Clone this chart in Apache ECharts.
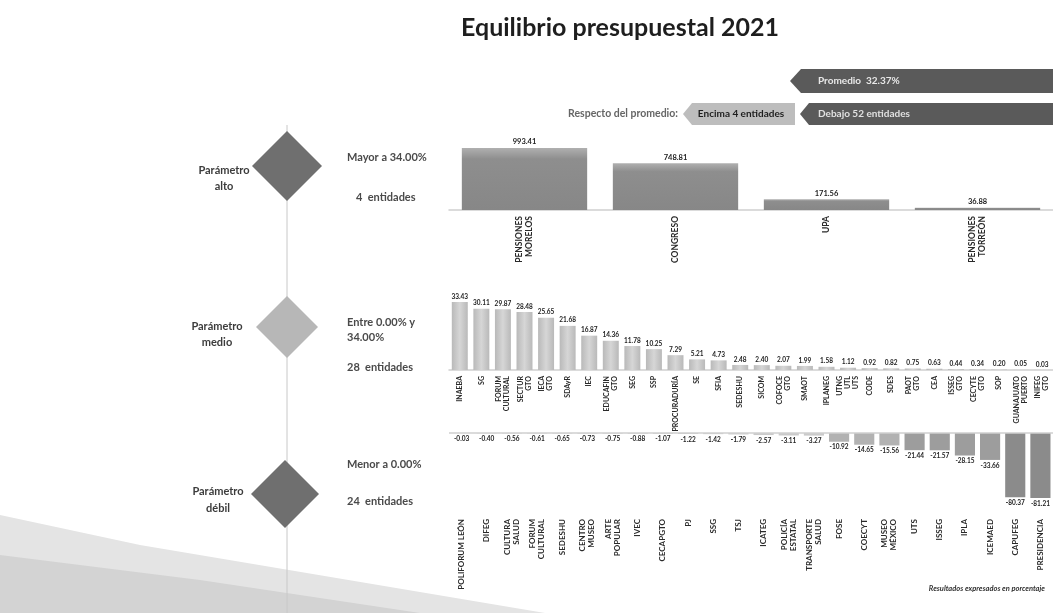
<!DOCTYPE html>
<html><head><meta charset="utf-8">
<script src="https://cdn.jsdelivr.net/npm/echarts/dist/echarts.min.js"></script>
<style>html,body{margin:0;padding:0;background:#fff}#c{width:1053px;height:613px}</style>
</head><body><div id="c"></div>
<script>
// ---- data ----
const altoCats = ["PENSIONES\nMORELOS", "CONGRESO", "UPA", "PENSIONES\nTORREÓN"];
const altoVals = [993.41, 748.81, 171.56, 36.88];

const medioCats = ["INAEBA", "SG", "FORUM\nCULTURAL", "SECTUR\nGTO", "IECA\nGTO", "SDAyR", "IEC", "EDUCAFIN\nGTO",
  "SEG", "SSP", "PROCURADURÍA", "SE", "SFIA", "SEDESHU", "SICOM", "COFOCE\nGTO", "SMAOT", "IPLANEG",
  "UTNG\nUTL\nUTS", "CODE", "SDES", "PAOT\nGTO", "CEA", "ISSEG\nGTO", "CECYTE\nGTO", "SOP", "GUANAJUATO\nPUERTO", "INIFEG\nGTO"];
const medioVals = [33.43, 30.11, 29.87, 28.48, 25.65, 21.68, 16.87, 14.36, 11.78, 10.25, 7.29, 5.21, 4.73, 2.48,
  2.40, 2.07, 1.99, 1.58, 1.12, 0.92, 0.82, 0.75, 0.63, 0.44, 0.34, 0.20, 0.05, 0.03];

const debilCats = ["POLIFORUM LEÓN", "DIFEG", "CULTURA\nSALUD", "FORUM\nCULTURAL", "SEDESHU", "CENTRO\nMUSEO",
  "ARTE\nPOPULAR", "IVEC", "CECAPGTO", "PJ", "SSG", "TSJ", "ICATEG", "POLICÍA\nESTATAL", "TRANSPORTE\nSALUD",
  "FOSE", "COECYT", "MUSEO\nMÉXICO", "UTS", "ISSEG", "IPLA", "ICEMAED", "CAPUFEG", "PRESIDENCIA"];
const debilVals = [-0.03, -0.40, -0.56, -0.61, -0.65, -0.73, -0.75, -0.88, -1.07, -1.22, -1.42, -1.79,
  -2.57, -3.11, -3.27, -10.92, -14.65, -15.56, -21.44, -21.57, -28.15, -33.66, -80.37, -81.21];

const promedio = "32.37%";
const encima = 4, debajo = 52;

// ---- chart ----
const FONT = 'Lato, "Open Sans", sans-serif';
const chart = echarts.init(document.getElementById('c'), null, {renderer: 'canvas'});

function catAxis(idx, cats, size) {
  return {
    type: 'category', gridIndex: idx, data: cats,
    axisTick: {show: false},
    axisLine: {show: idx !== 2, onZero: idx !== 2, lineStyle: {color: '#cfcfcf', width: 1.5}},
    axisLabel: {rotate: 90, interval: 0, fontSize: size, lineHeight: size + 1, fontWeight: 'bold',
      color: '#2a2a2a', fontFamily: FONT, margin: 6}
  };
}
function valAxis(idx, min, max) {
  return {type: 'value', gridIndex: idx, min: min, max: max, show: false, splitLine: {show: false}};
}
const lbl = (pos, size) => ({show: true, position: pos, fontSize: size, fontWeight: 'bold', color: '#222',
  fontFamily: FONT, distance: 2, formatter: p => p.value.toFixed(2)});

function debilColor(p) {
  const v = p.value;
  if (v > -5) return '#cacaca';
  if (v > -20) return '#b2b2b2';
  if (v > -40) return '#9d9d9d';
  return '#8b8b8b';
}

const TXT = 'bold 11px ' + FONT;
const option = {
  animation: false,
  backgroundColor: '#fff',
  title: {text: 'Equilibrio presupuestal 2021', left: 615, top: 10, textAlign: 'center',
    textStyle: {fontSize: 25, fontWeight: 'bold', color: '#1e1e1e', fontFamily: FONT}},
  grid: [
    {left: 449, width: 610, top: 140, height: 70},
    {left: 449, width: 610, top: 300, height: 70},
    {left: 449, width: 610, top: 433, height: 80}
  ],
  xAxis: [catAxis(0, altoCats, 8.5), catAxis(1, medioCats, 7), catAxis(2, debilCats, 8)],
  yAxis: [valAxis(0, 0, 1120), valAxis(1, 0, 34.4), valAxis(2, -100, 0)],
  series: [
    {type: 'bar', xAxisIndex: 0, yAxisIndex: 0, data: altoVals, barWidth: '83%',
      itemStyle: {color: {type: 'linear', x: 0, y: 0, x2: 0, y2: 1, colorStops: [
        {offset: 0, color: '#b0b0b0'}, {offset: 0.18, color: '#8e8e8e'}, {offset: 1, color: '#878787'}]}},
      label: lbl('top', 7.5)},
    {type: 'bar', xAxisIndex: 1, yAxisIndex: 1, data: medioVals, barWidth: '74%',
      itemStyle: {color: {type: 'linear', x: 0, y: 0, x2: 1, y2: 0, colorStops: [
        {offset: 0, color: '#b9b9b9'}, {offset: 0.5, color: '#d6d6d6'}, {offset: 1, color: '#b9b9b9'}]}},
      label: lbl('top', 6.5)},
    {type: 'bar', xAxisIndex: 2, yAxisIndex: 2, data: debilVals, barWidth: '80%',
      itemStyle: {color: debilColor},
      label: lbl('bottom', 6.5),
      markLine: {silent: true, symbol: 'none', label: {show: false},
        lineStyle: {color: '#cfcfcf', width: 1.5, type: 'solid'}, data: [{yAxis: 0}]}}
  ],
  graphic: [
    // background wedge bottom-left
    {type: 'polygon', z: -10, shape: {points: [[0, 515], [140, 545], [545, 613], [0, 613]]},
      style: {fill: '#e4e4e4'}},
    {type: 'polygon', z: -9, shape: {points: [[0, 555], [200, 580], [420, 613], [0, 613]]},
      style: {fill: '#d3d3d3'}},
    // vertical guide line
    {type: 'line', shape: {x1: 287, y1: 125, x2: 287, y2: 613}, style: {stroke: '#c8c8c8', lineWidth: 1}},
    // diamonds
    {type: 'polygon', shape: {points: [[287, 131], [322, 166], [287, 201], [252, 166]]}, style: {fill: '#6f6f6f'}},
    {type: 'polygon', shape: {points: [[287, 296], [318, 327], [287, 358], [256, 327]]}, style: {fill: '#b7b7b7'}},
    {type: 'polygon', shape: {points: [[285, 460], [319, 494], [285, 528], [251, 494]]}, style: {fill: '#6f6f6f'}},
    // left labels
    {type: 'text', style: {text: 'Parámetro\nalto', x: 224, y: 178, align: 'center', verticalAlign: 'middle',
      font: TXT, lineHeight: 16, fill: '#3c3c3c'}},
    {type: 'text', style: {text: 'Parámetro\nmedio', x: 217, y: 334, align: 'center', verticalAlign: 'middle',
      font: TXT, lineHeight: 16, fill: '#3c3c3c'}},
    {type: 'text', style: {text: 'Parámetro\ndébil', x: 218, y: 500, align: 'center', verticalAlign: 'middle',
      font: TXT, lineHeight: 17, fill: '#3c3c3c'}},
    // right-of-diamond labels
    {type: 'text', style: {text: 'Mayor a 34.00%', x: 347, y: 157, verticalAlign: 'middle', font: TXT, fill: '#4a4a4a'}},
    {type: 'text', style: {text: encima + '  entidades', x: 356, y: 197, verticalAlign: 'middle', font: TXT, fill: '#4a4a4a'}},
    {type: 'text', style: {text: 'Entre 0.00% y\n34.00%', x: 347, y: 330, verticalAlign: 'middle', lineHeight: 15, font: TXT, fill: '#4a4a4a'}},
    {type: 'text', style: {text: '28  entidades', x: 347, y: 367, verticalAlign: 'middle', font: TXT, fill: '#4a4a4a'}},
    {type: 'text', style: {text: 'Menor a 0.00%', x: 347, y: 464, verticalAlign: 'middle', font: TXT, fill: '#4a4a4a'}},
    {type: 'text', style: {text: '24  entidades', x: 347, y: 501, verticalAlign: 'middle', font: TXT, fill: '#4a4a4a'}},
    // banners
    {type: 'polygon', shape: {points: [[790, 81], [801, 69], [1053, 69], [1053, 93], [801, 93]]}, style: {fill: '#5a5a5a'}},
    {type: 'text', style: {text: 'Promedio  ' + promedio, x: 818, y: 81, verticalAlign: 'middle', font: 'bold 10px ' + FONT, fill: '#e8e8e8'}},
    {type: 'text', style: {text: 'Respecto del promedio:', x: 678, y: 114, align: 'right', verticalAlign: 'middle', font: 'bold 10.5px ' + FONT, fill: '#666'}},
    {type: 'polygon', shape: {points: [[683, 114], [692, 103], [795, 103], [795, 125], [692, 125]]}, style: {fill: '#bdbdbd'}},
    {type: 'text', style: {text: 'Encima ' + encima + ' entidades', x: 741, y: 114, align: 'center', verticalAlign: 'middle', font: 'bold 10px ' + FONT, fill: '#1e1e1e'}},
    {type: 'polygon', shape: {points: [[800, 114], [809, 103], [1053, 103], [1053, 125], [809, 125]]}, style: {fill: '#5a5a5a'}},
    {type: 'text', style: {text: 'Debajo ' + debajo + ' entidades', x: 818, y: 114, verticalAlign: 'middle', font: 'bold 10px ' + FONT, fill: '#e0e0e0'}},
    // footnote
    {type: 'text', style: {text: 'Resultados expresados en porcentaje', x: 1045, y: 589, align: 'right', verticalAlign: 'middle',
      font: 'italic bold 7.5px ' + FONT, fill: '#333'}}
  ]
};
chart.setOption(option);
</script>
</body></html>
